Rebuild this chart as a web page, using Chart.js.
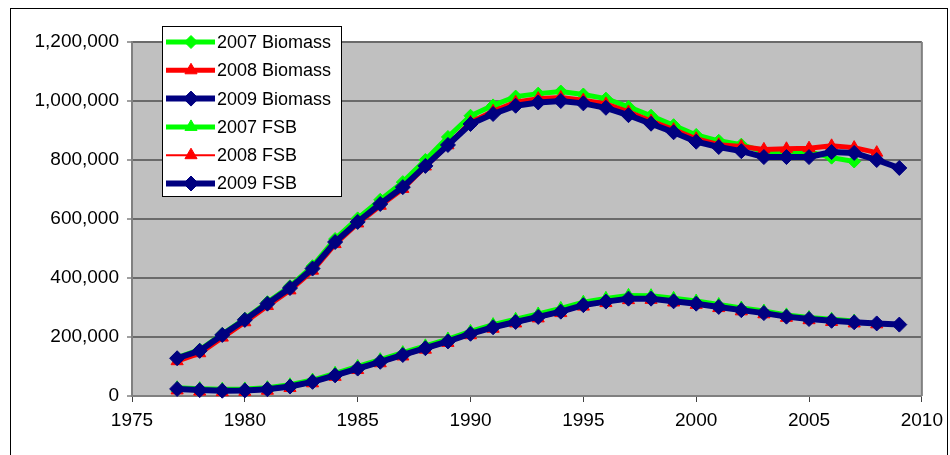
<!DOCTYPE html>
<html>
<head>
<meta charset="utf-8">
<script src="https://cdn.jsdelivr.net/npm/chart.js@4.4.1/dist/chart.umd.min.js"></script>
<style>
  html, body { margin: 0; padding: 0; background: #ffffff; }
  #wrap { width: 950px; height: 455px; position: relative; }
</style>
</head>
<body>
<div id="wrap"><canvas id="c" width="950" height="455"></canvas></div>
<script>
// Survey years
const years = [1977, 1978, 1979, 1980, 1981, 1982, 1983, 1984, 1985, 1986, 1987,
  1988, 1989, 1990, 1991, 1992, 1993, 1994, 1995, 1996, 1997, 1998, 1999, 2000,
  2001, 2002, 2003, 2004, 2005, 2006, 2007, 2008, 2009];

// Total biomass by assessment year (each assessment ends at its own year)
const biomass2007 = [130000, 157000, 210000, 262000, 318000, 372000, 440000, 532000,
  602000, 665000, 725000, 800000, 878000, 950000, 985000, 1015000, 1025000, 1032000,
  1022000, 1008000, 980000, 950000, 918000, 885000, 865000, 852000, 828000, 827000,
  828000, 808000, 795000];
const biomass2008 = [118000, 145000, 198000, 250000, 305000, 358000, 425000, 515000,
  585000, 645000, 702000, 778000, 850000, 928000, 965000, 996000, 1008000, 1012000,
  1003000, 990000, 963000, 932000, 903000, 872000, 852000, 846000, 836000, 838000,
  840000, 848000, 842000, 825000];
const biomass2009 = [128000, 153000, 207000, 258000, 313000, 366000, 432000, 522000,
  590000, 651000, 708000, 780000, 851000, 922000, 956000, 984000, 995000, 1000000,
  992000, 977000, 952000, 923000, 894000, 862000, 844000, 830000, 810000, 810000,
  810000, 827000, 824000, 800000, 773000];

// Female spawning biomass by assessment year
const fsb2007 = [28000, 25000, 23000, 24000, 28000, 38000, 54000, 77000, 100000,
  123000, 147000, 170000, 193000, 219000, 242000, 260000, 278000, 297000, 318000,
  331000, 341000, 340000, 331000, 322000, 310000, 298000, 288000, 275000, 266000,
  260000, 254000];
const fsb2008 = [19000, 15000, 13000, 14000, 18000, 27000, 43000, 65000, 88000,
  111000, 134000, 157000, 180000, 206000, 228000, 246000, 263000, 281000, 303000,
  315000, 325000, 326000, 317000, 309000, 298000, 287000, 277000, 265000, 257000,
  251000, 246000, 243000];
const fsb2009 = [24000, 20000, 18000, 19000, 23000, 32000, 48000, 70000, 93000,
  116000, 139000, 162000, 185000, 211000, 233000, 251000, 268000, 286000, 308000,
  320000, 330000, 330000, 321000, 313000, 302000, 291000, 281000, 269000, 261000,
  255000, 250000, 246000, 242000];

// Axis ranges
const xMin = 1975, xMax = 2010, xStep = 5;
const yMin = 0, yMax = 1200000, yStep = 200000;

const GREEN = '#00ff00', RED = '#ff0000', NAVY = '#000080';
const FONT = '"Liberation Sans", Arial, sans-serif';

function pts(values) {
  return values.map((v, i) => ({ x: years[i], y: v }));
}

function series(label, values, color, width, style, radius, order) {
  return {
    label: label,
    data: pts(values),
    borderColor: color,
    backgroundColor: color,
    borderWidth: width,
    pointStyle: style,
    pointRadius: radius,
    pointBorderWidth: 1,
    pointBorderColor: color,
    pointBackgroundColor: color,
    tension: 0,
    order: order,
    clip: false
  };
}

const datasets = [
  series('2007 Biomass', biomass2007, GREEN, 5, 'rectRot', 6.5, 6),
  series('2008 Biomass', biomass2008, RED, 5, 'triangle', 7, 5),
  series('2009 Biomass', biomass2009, NAVY, 6, 'rectRot', 7.5, 2),
  series('2007 FSB', fsb2007, GREEN, 5, 'triangle', 7, 4),
  series('2008 FSB', fsb2008, RED, 2, 'triangle', 7, 3),
  series('2009 FSB', fsb2009, NAVY, 6, 'rectRot', 7.5, 1)
];

// Gray plot background, right plot edge and the outer frame
const frame = {
  id: 'frame',
  beforeDraw(chart) {
    const { ctx, chartArea: a } = chart;
    ctx.save();
    ctx.fillStyle = '#ffffff';
    ctx.fillRect(0, 0, chart.width, chart.height);
    ctx.fillStyle = '#c0c0c0';
    ctx.fillRect(a.left, a.top, a.right - a.left, a.bottom - a.top);
    ctx.strokeStyle = '#000000';
    ctx.lineWidth = 1;
    ctx.strokeRect(10.5, 8.5, 937, 470);
    ctx.restore();
  },
  beforeDatasetsDraw(chart) {
    const { ctx, chartArea: a } = chart;
    ctx.save();
    ctx.strokeStyle = '#808080';
    ctx.lineWidth = 2;
    ctx.beginPath();
    ctx.moveTo(a.right, a.top);
    ctx.lineTo(a.right, a.bottom);
    ctx.stroke();
    ctx.restore();
  }
};

// Boxed legend over the plot, one row per dataset
const boxLegend = {
  id: 'boxLegend',
  afterDraw(chart) {
    const { ctx } = chart;
    const x0 = 162, y0 = 26, w = 179, h = 170, row = 28.3;
    ctx.save();
    ctx.fillStyle = '#ffffff';
    ctx.fillRect(x0, y0, w, h);
    ctx.strokeStyle = '#000000';
    ctx.lineWidth = 1;
    ctx.strokeRect(x0 + 0.5, y0 + 0.5, w, h);
    chart.data.datasets.forEach((ds, i) => {
      const y = y0 + 16 + i * row;
      ctx.strokeStyle = ds.borderColor;
      ctx.lineWidth = ds.borderWidth;
      ctx.lineCap = 'butt';
      ctx.beginPath();
      ctx.moveTo(166, y);
      ctx.lineTo(215, y);
      ctx.stroke();
      ctx.fillStyle = ds.pointBackgroundColor;
      ctx.strokeStyle = ds.pointBorderColor;
      ctx.lineWidth = 1;
      Chart.helpers.drawPoint(ctx, {
        pointStyle: ds.pointStyle,
        radius: ds.pointRadius,
        borderWidth: 1,
        rotation: 0
      }, 191, y);
      ctx.fillStyle = '#000000';
      ctx.font = '18px ' + FONT;
      ctx.textBaseline = 'middle';
      ctx.textAlign = 'left';
      ctx.fillText(ds.label, 217, y + 1);
    });
    ctx.restore();
  }
};

new Chart(document.getElementById('c'), {
  type: 'line',
  data: { datasets: datasets },
  plugins: [frame, boxLegend],
  options: {
    responsive: false,
    animation: false,
    events: [],
    layout: { padding: { top: 42, right: 25, left: 0, bottom: 0 } },
    plugins: {
      legend: { display: false },
      tooltip: { enabled: false }
    },
    scales: {
      x: {
        type: 'linear',
        min: xMin,
        max: xMax,
        ticks: {
          stepSize: xStep,
          color: '#000000',
          font: { family: FONT, size: 19 },
          padding: 7,
          maxRotation: 0,
          callback: (v) => String(v)
        },
        grid: {
          drawOnChartArea: false,
          drawTicks: true,
          tickLength: 6,
          color: '#404040',
          lineWidth: 1
        },
        border: { color: '#808080', width: 2 },
        afterFit(scale) { scale.height = 59; }
      },
      y: {
        min: yMin,
        max: yMax,
        ticks: {
          stepSize: yStep,
          color: '#000000',
          font: { family: FONT, size: 19 },
          padding: 8,
          callback: (v) => v.toLocaleString('en-US')
        },
        grid: {
          color: '#6a6a6a',
          lineWidth: 2,
          tickLength: 5,
          tickColor: '#404040',
          tickWidth: 1
        },
        border: { color: '#808080', width: 2 },
        afterFit(scale) { scale.width = 132; }
      }
    }
  }
});
</script>
</body>
</html>
